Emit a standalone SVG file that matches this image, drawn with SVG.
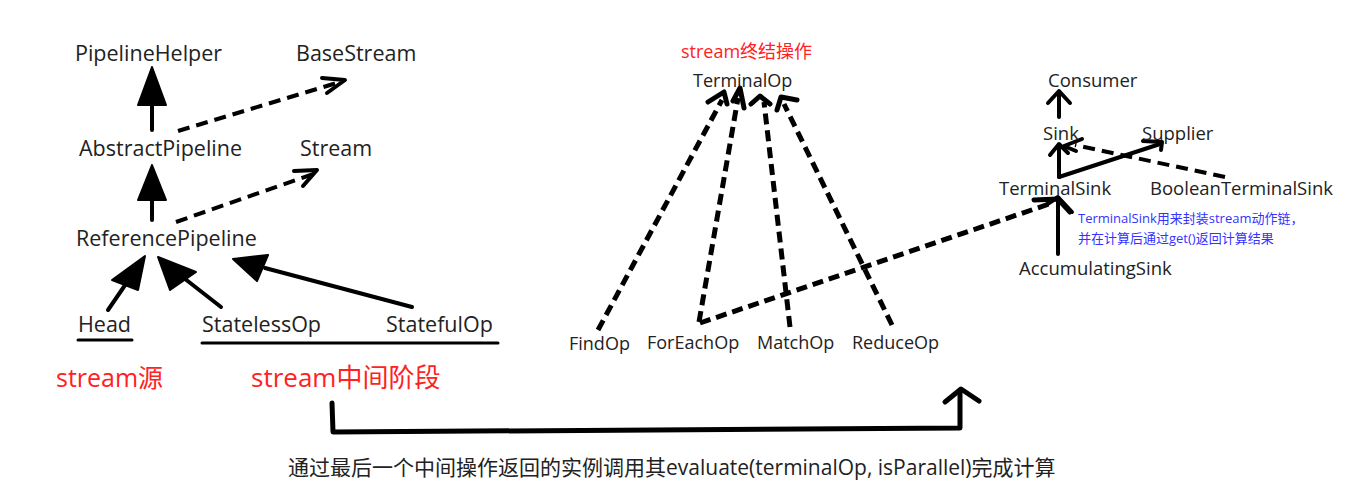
<svg xmlns="http://www.w3.org/2000/svg" width="1360" height="501" viewBox="0 0 1360 501">
<style>
.t{font-family:"Open Sans","Noto Sans","Noto Sans CJK SC",sans-serif;fill:#222;}
.l{font-size:21.5px;}
.m{font-size:18px;}
.r{font-size:18.5px;}
.red{fill:#ff2222;}
.blue{fill:#3333ff;font-size:13px;}
.s{stroke:#000;stroke-width:4;fill:none;stroke-linecap:round;stroke-linejoin:round;}
.d{stroke:#000;stroke-width:4;fill:none;stroke-dasharray:12 7;stroke-linecap:butt;}
.d5{stroke:#000;stroke-width:5;fill:none;stroke-dasharray:11 6;stroke-linecap:butt;}
.h{stroke:#000;stroke-width:4;fill:none;stroke-linecap:round;stroke-linejoin:round;}
.f{fill:#000;stroke:#000;stroke-width:2;stroke-linejoin:round;}
</style>
<rect width="1360" height="501" fill="#fff"/>
<g id="connectors">
  <line class="s" x1="152" y1="130" x2="152" y2="95"/>
  <polygon class="f" points="152,67 138,105 166,105"/>
  <line class="d" x1="178" y1="131" x2="340" y2="82"/>
  <polyline class="h" points="322,78 345,80 327,93"/>
  <line class="s" x1="152" y1="220" x2="152" y2="190"/>
  <polygon class="f" points="152,165 138,200 166,200"/>
  <line class="d" x1="176" y1="222" x2="313" y2="174"/>
  <polyline class="h" points="294,171 317,170 303,186"/>
  <line class="s" x1="108" y1="310" x2="132" y2="275"/>
  <polygon class="f" points="145,256 112,280 138,290"/>
  <line class="s" x1="221" y1="307" x2="180" y2="275"/>
  <polygon class="f" points="158,257 170,290 196,272"/>
  <line class="s" x1="412" y1="307" x2="265" y2="268"/>
  <polygon class="f" points="233,259 257,281 268,255"/>

  <line class="d5" x1="598" y1="330" x2="722" y2="100"/>
  <polyline class="h" style="stroke-width:5" points="708,102 724,92 727,104"/>
  <line class="d5" x1="699" y1="322" x2="738" y2="98"/>
  <polyline class="h" style="stroke-width:5" points="733,101 740,88 744,108"/>
  <line class="d5" x1="790" y1="327" x2="764" y2="102"/>
  <polyline class="h" style="stroke-width:5" points="751,104 760,96 770,104"/>
  <line class="d5" x1="892" y1="325" x2="784" y2="104"/>
  <polyline class="h" style="stroke-width:5" points="777,110 781,97 797,100"/>
  <line class="d5" x1="700" y1="323" x2="1052" y2="203"/>
  <polyline class="h" style="stroke-width:5" points="1034,200 1058,199 1070,212"/>

  <line class="s" x1="1059" y1="117" x2="1059" y2="93"/>
  <polyline class="h" points="1048,103 1059,91 1070,103"/>
  <line class="s" x1="1059" y1="177" x2="1059" y2="146"/>
  <polyline class="h" points="1050,155 1059,144 1068,153"/>
  <line class="s" x1="1059" y1="177" x2="1160" y2="144"/>
  <polyline class="h" points="1143,141 1162,142 1161,150"/>
  <line class="d" x1="1225" y1="177" x2="1075" y2="145"/>
  <polyline class="h" points="1082,139 1064,146 1076,151"/>
  <line class="s" x1="1058" y1="254" x2="1058" y2="200"/>
  <polyline class="h" points="1046,205 1058,197 1072,212"/>

  <polyline class="s" style="stroke-width:5" points="332,403 333,432 960,428 960,390"/>
  <polyline class="h" style="stroke-width:5" points="945,402 961,389 979,401"/>
</g>

<g id="PipelineHelper"><text class="t l" x="75" y="61">PipelineHelper</text></g>
<g id="BaseStream"><text class="t l" x="296" y="61">BaseStream</text></g>
<g id="AbstractPipeline"><text class="t l" x="79" y="156">AbstractPipeline</text></g>
<g id="Stream"><text class="t l" x="300" y="156">Stream</text></g>
<g id="ReferencePipeline"><text class="t l" x="76" y="246">ReferencePipeline</text></g>
<g id="Head"><text class="t l" x="78" y="332">Head</text><line class="s" style="stroke-width:3" x1="78" y1="340" x2="132" y2="340"/></g>
<g id="StatelessOp"><text class="t l" x="202" y="332">StatelessOp</text></g>
<g id="StatefulOp"><text class="t l" x="386" y="332">StatefulOp</text><line class="s" style="stroke-width:3" x1="202" y1="343" x2="498" y2="343"/></g>
<g id="label-source"><text class="t red" style="font-size:25px" x="56" y="387">stream源</text></g>
<g id="label-intermediate"><text class="t red" style="font-size:26px" x="251" y="387">stream中间阶段</text></g>

<g id="label-terminal"><text class="t red" style="font-size:18px" x="681" y="58">stream终结操作</text></g>
<g id="TerminalOp"><text class="t m" x="693" y="87">TerminalOp</text></g>
<g id="FindOp"><text class="t m" x="569" y="350">FindOp</text></g>
<g id="ForEachOp"><text class="t m" x="647" y="349">ForEachOp</text></g>
<g id="MatchOp"><text class="t m" x="757" y="349">MatchOp</text></g>
<g id="ReduceOp"><text class="t m" x="852" y="349">ReduceOp</text></g>

<g id="Consumer"><text class="t r" x="1048" y="87">Consumer</text></g>
<g id="Sink"><text class="t r" x="1043" y="140">Sink</text></g>
<g id="Supplier"><text class="t r" x="1142" y="140">Supplier</text></g>
<g id="TerminalSink"><text class="t r" x="999" y="195">TerminalSink</text></g>
<g id="BooleanTerminalSink"><text class="t r" x="1150" y="195">BooleanTerminalSink</text></g>
<g id="AccumulatingSink"><text class="t r" x="1019" y="275">AccumulatingSink</text></g>
<g id="note"><text class="t blue" x="1078" y="223">TerminalSink用来封装stream动作链，</text><text class="t blue" x="1078" y="243">并在计算后通过get()返回计算结果</text></g>

<g id="bottom-label"><text class="t" style="font-size:21px" x="288" y="475">通过最后一个中间操作返回的实例调用其evaluate(terminalOp, isParallel)完成计算</text></g>
</svg>
